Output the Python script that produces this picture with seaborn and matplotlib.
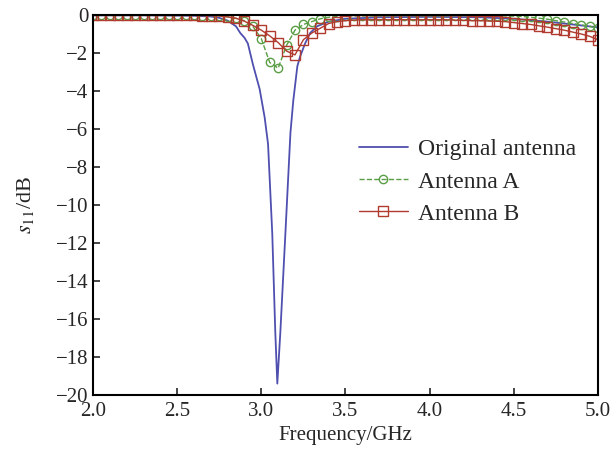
import pandas as pd
import matplotlib
matplotlib.use("Agg")
import matplotlib.pyplot as plt
import seaborn as sns

# original antenna (denser around the resonance)
freq_orig = [2.0, 2.3, 2.6, 2.7, 2.75, 2.8, 2.85, 2.875, 2.9, 2.92, 2.95, 2.99,
             3.02, 3.04, 3.065, 3.083, 3.095, 3.113, 3.143, 3.173, 3.19, 3.214,
             3.23, 3.26, 3.29, 3.33, 3.4, 3.5, 3.7, 4.0, 4.3, 4.5, 4.7, 4.9, 5.0]
s11_orig = [-0.02, -0.02, -0.04, -0.08, -0.15, -0.3, -0.6, -0.95, -1.2, -1.5, -2.6, -3.9,
            -5.4, -6.8, -11.5, -16.7, -19.4, -16.7, -11.5, -6.2, -4.5, -2.7,
            -2.2, -1.5, -0.95, -0.6, -0.35, -0.2, -0.12, -0.1, -0.12, -0.2, -0.35, -0.55, -0.65]

freq_ab = [2.0, 2.05, 2.1, 2.15, 2.2, 2.25, 2.3, 2.35, 2.4, 2.45,
           2.5, 2.55, 2.6, 2.65, 2.7, 2.75, 2.8, 2.85, 2.9, 2.95,
           3.0, 3.05, 3.1, 3.15, 3.2, 3.25, 3.3, 3.35, 3.4, 3.45,
           3.5, 3.55, 3.6, 3.65, 3.7, 3.75, 3.8, 3.85, 3.9, 3.95,
           4.0, 4.05, 4.1, 4.15, 4.2, 4.25, 4.3, 4.35, 4.4, 4.45,
           4.5, 4.55, 4.6, 4.65, 4.7, 4.75, 4.8, 4.85, 4.9, 4.95, 5.0]

s11_a = [-0.02, -0.02, -0.02, -0.02, -0.02, -0.02, -0.02, -0.02, -0.02, -0.02,
         -0.02, -0.02, -0.02, -0.03, -0.03, -0.05, -0.1, -0.18, -0.3, -0.6,
         -1.25, -2.5, -2.8, -1.6, -0.8, -0.5, -0.35, -0.2, -0.12, -0.08,
         -0.05, -0.05, -0.05, -0.05, -0.05, -0.05, -0.05, -0.05, -0.05, -0.05,
         -0.05, -0.05, -0.05, -0.05, -0.05, -0.05, -0.05, -0.05, -0.05, -0.05,
         -0.06, -0.08, -0.12, -0.17, -0.22, -0.3, -0.37, -0.45, -0.52, -0.6, -0.7]

s11_b = [-0.02, -0.02, -0.02, -0.02, -0.02, -0.02, -0.02, -0.02, -0.02, -0.02,
         -0.02, -0.02, -0.02, -0.03, -0.03, -0.05, -0.1, -0.17, -0.33, -0.55,
         -0.8, -1.1, -1.45, -1.9, -2.1, -1.3, -0.95, -0.7, -0.45, -0.35,
         -0.3, -0.27, -0.25, -0.25, -0.25, -0.25, -0.25, -0.25, -0.25, -0.25,
         -0.25, -0.25, -0.25, -0.27, -0.28, -0.3, -0.3, -0.32, -0.33, -0.35,
         -0.4, -0.45, -0.5, -0.57, -0.64, -0.72, -0.8, -0.9, -1.0, -1.12, -1.3]

sns.set_style("ticks")
plt.rcParams['font.family'] = ['Liberation Serif', 'DejaVu Serif']
plt.rcParams['mathtext.fontset'] = 'stix'

fig = plt.figure(figsize=(6.12, 4.54), dpi=100)
ax = fig.add_axes([0.152, 0.130, 0.825, 0.837])

sns.lineplot(x=freq_orig, y=s11_orig, ax=ax, color='#4f4fb0', linewidth=1.3,
             label='Original antenna')
sns.lineplot(x=freq_ab, y=s11_a, ax=ax, color='#5a9e45', linewidth=1.0,
             linestyle='--', marker='o', markersize=6, markerfacecolor='none',
             markeredgecolor='#5a9e45', markeredgewidth=1.0, label='Antenna A')
sns.lineplot(x=freq_ab, y=s11_b, ax=ax, color='#b03a2e', linewidth=1.0,
             marker='s', markersize=7, markerfacecolor='none',
             markeredgecolor='#b03a2e', markeredgewidth=1.0, label='Antenna B')

ax.set_xlim(2.0, 5.0)
ax.set_ylim(-20, 0)
ax.set_xticks([2.0, 2.5, 3.0, 3.5, 4.0, 4.5, 5.0])
ax.set_xticklabels(['2.0', '2.5', '3.0', '3.5', '4.0', '4.5', '5.0'])
ax.set_yticks(range(-20, 1, 2))
ax.tick_params(direction='in', length=5, width=1.2, labelsize=15,
               top=False, right=False)
ax.tick_params(axis='x', pad=5)
for sp in ax.spines.values():
    sp.set_visible(True)
    sp.set_linewidth(1.5)
    sp.set_color('black')

ax.set_xlabel('Frequency/GHz', fontsize=15)
ax.set_ylabel(r'$s_{11}$/dB', fontsize=16, labelpad=14)

ax.legend(loc='center left', bbox_to_anchor=(0.484, 0.561), frameon=False,
          fontsize=17, handlelength=2.1, labelspacing=0.45, handletextpad=0.4)

fig.savefig('out.png', dpi=100)
